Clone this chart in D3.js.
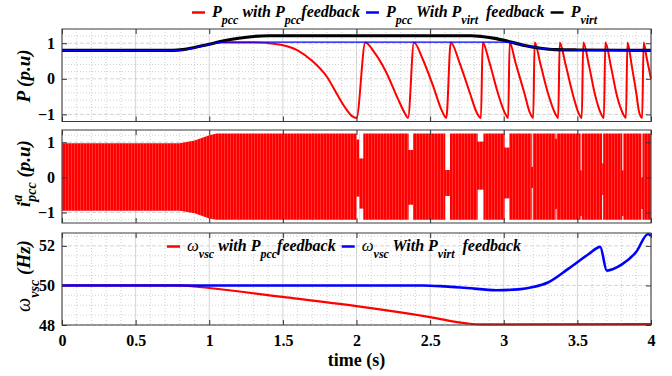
<!DOCTYPE html>
<html lang="en">
<head>
<meta charset="UTF-8">
<script src="https://cdn.jsdelivr.net/npm/d3@7"></script>
<style>
  html, body { margin: 0; padding: 0; background: #fff; }
  svg { display: block; font-family: "Liberation Serif", "Times New Roman", serif; }
  .tick text { font-weight: bold; font-size: 16px; fill: #000; font-family: "Liberation Serif", serif; }
  .lbl { font-weight: bold; font-style: italic; white-space: pre; fill: #000; }
</style>
</head>
<body>
<div id="chart"></div>
<script>
// ---- values ----
const xTicks = [0, 0.5, 1, 1.5, 2, 2.5, 3, 3.5, 4];
const pTicks = [-1, 0, 1];
const iTicks = [-1, 0, 1];
const wTicks = [48, 50, 52];

// P_virt (black)
const pVirtT = [0, 0.75, 0.82, 0.9, 1.0, 1.1, 1.2, 1.3, 1.4, 2.78, 2.85, 2.95, 3.05, 3.15, 3.25, 3.35, 3.5, 4.0];
const pVirtV = [0.8, 0.8, 0.82, 0.88, 0.97, 1.07, 1.14, 1.19, 1.21, 1.21, 1.19, 1.13, 1.03, 0.93, 0.86, 0.82, 0.81, 0.8];

// P_pcc with P_virt feedback (blue)
const pBlueT = [0, 0.78, 0.85, 0.92, 1.0, 1.05, 1.1, 3.0, 3.05, 3.15, 3.25, 3.35, 3.5, 4.0];
const pBlueV = [0.8, 0.8, 0.83, 0.89, 0.97, 1.01, 1.03, 1.03, 1.02, 0.93, 0.86, 0.82, 0.81, 0.8];

// P_pcc with P_pcc feedback (red)
const pRedT = [0, 0.78, 0.85, 0.92, 1.0, 1.08, 1.3, 1.45, 1.6, 1.7, 1.8, 1.87, 1.93, 1.97, 2.0,
  2.06, 2.12, 2.2, 2.28, 2.33, 2.35,
  2.39, 2.45, 2.52, 2.58, 2.61,
  2.64, 2.7, 2.77, 2.82, 2.845,
  2.857, 2.9, 2.96, 3.01, 3.03,
  3.04, 3.08, 3.14, 3.18, 3.2,
  3.21, 3.25, 3.3, 3.35, 3.37,
  3.38, 3.42, 3.47, 3.51, 3.53,
  3.54, 3.58, 3.62, 3.66, 3.68,
  3.69, 3.73, 3.77, 3.81, 3.83,
  3.84, 3.87, 3.9, 3.92, 3.94,
  3.95, 3.97, 4.0];
const pRedV = [0.8, 0.8, 0.83, 0.89, 0.97, 1.02, 1.02, 0.98, 0.8, 0.5, 0.05, -0.45, -0.85, -1.05, -1.1,
  1.02, 0.75, 0.2, -0.55, -0.98, -1.1,
  1.02, 0.55, -0.2, -0.9, -1.1,
  1.02, 0.45, -0.4, -0.98, -1.1,
  1.02, 0.5, -0.4, -0.98, -1.1,
  1.02, 0.45, -0.4, -0.98, -1.1,
  1.02, 0.4, -0.4, -0.98, -1.1,
  1.02, 0.4, -0.45, -0.98, -1.1,
  1.02, 0.35, -0.45, -0.98, -1.1,
  1.02, 0.3, -0.5, -0.98, -1.1,
  1.02, 0.35, -0.4, -0.95, -1.1,
  1.02, 0.6, 0.0];

// i_pcc^a envelope (red band) and the white notches in it
const iEnvT = [0, 0.8, 0.9, 1.0, 1.05, 4.0];
const iEnvUp = [0.97, 0.97, 1.05, 1.2, 1.25, 1.25];
const iEnvLo = [-0.95, -0.95, -1.02, -1.17, -1.21, -1.21];
const iGapStart = [2.001, 2.019, 2.354, 2.603, 2.823, 3.006, 3.19, 3.352, 3.522, 3.668, 3.805, 3.935];
const iGapEnd = [2.019, 2.046, 2.384, 2.635, 2.862, 3.038, 3.197, 3.358, 3.528, 3.675, 3.811, 3.942];
const iGapUp = [1.08, 0.54, 0.78, 0.21, 1.02, 0.85, 0.3, 1.1, 0.2, 0.4, 0.2, 0.0];
const iGapLo = [-0.55, -0.89, -0.78, -0.53, -0.35, -0.6, -0.3, -0.9, -1.1, -0.5, -1.1, -0.9];

// omega_vsc with P_pcc feedback (red)
const wRedT = [0, 0.8, 0.9, 1.0, 1.5, 2.0, 2.5, 2.75, 2.85, 4.0];
const wRedV = [50, 50, 49.95, 49.87, 49.42, 48.95, 48.4, 48.08, 48.03, 48.04];

// omega_vsc with P_virt feedback (blue)
const wBlueT = [0, 2.45, 2.6, 2.75, 2.95, 3.1, 3.2, 3.3, 3.44, 3.58, 3.655, 3.7, 3.8, 3.9, 3.98, 4.0];
const wBlueV = [50, 50, 49.95, 49.87, 49.76, 49.8, 49.92, 50.15, 50.85, 51.6, 51.95, 50.75, 51.05, 51.7, 52.6, 52.5];

const zip = (t, v) => t.map((d, i) => ({t: d, v: v[i]}));

// ---- layout ----
const width = 672, height = 376;
const x = d3.scaleLinear().domain([0, 4]).range([62, 651]);

const panels = [
  {top: 29, bottom: 121.5, domain: [-1.2, 1.4], ticks: pTicks, minor: 0.2},
  {top: 130, bottom: 223, domain: [-1.3, 1.35], ticks: iTicks, minor: 0.2},
  {top: 233, bottom: 325, domain: [48, 52.65], ticks: wTicks, minor: 0.5}
];

const svg = d3.select('#chart').append('svg').attr('width', width).attr('height', height);

const xMinor = d3.range(0.1, 4, 0.1).filter(v => Math.abs(v * 2 - Math.round(v * 2)) > 1e-6);

function richText(sel, parts, size) {
  let shift = 0;
  parts.forEach(([str, kind]) => {
    const ts = sel.append('tspan').text(str);
    let target = 0;
    if (kind === 'sub') { target = size * 0.45; ts.attr('font-size', size * 0.75); }
    if (kind === 'w') { ts.attr('font-weight', 'normal').attr('font-size', size * 1.05); }
    ts.attr('dy', target - shift);
    shift = target;
  });
}

function legend(g, x0, yBase, entries, size) {
  let cx = x0;
  entries.forEach(e => {
    g.append('line').attr('x1', cx).attr('x2', cx + 13)
      .attr('y1', yBase - 4.5).attr('y2', yBase - 4.5)
      .attr('stroke', e.color).attr('stroke-width', 2.5);
    const t = g.append('text').attr('class', 'lbl').attr('x', cx + 20).attr('y', yBase)
      .attr('font-size', size);
    richText(t, e.parts, size);
    cx = cx + 20 + t.node().getComputedTextLength() + 6;
  });
}

panels.forEach((p, k) => {
  const y = d3.scaleLinear().domain(p.domain).range([p.bottom, p.top]);
  p.y = y;
  const g = svg.append('g');
  const yMinor = d3.range(Math.ceil(p.domain[0] / p.minor) * p.minor, p.domain[1], p.minor)
    .filter(v => !p.ticks.some(t => Math.abs(t - v) < 1e-6));

  // minor grid
  g.append('g').selectAll('line').data(xMinor).join('line')
    .attr('x1', d => x(d)).attr('x2', d => x(d)).attr('y1', p.top).attr('y2', p.bottom)
    .attr('stroke', '#c4c4c4').attr('stroke-width', 0.8).attr('stroke-dasharray', '1,2');
  g.append('g').selectAll('line').data(yMinor).join('line')
    .attr('x1', x(0)).attr('x2', x(4)).attr('y1', d => y(d)).attr('y2', d => y(d))
    .attr('stroke', '#c4c4c4').attr('stroke-width', 0.8).attr('stroke-dasharray', '1,2');
  // major grid
  g.append('g').selectAll('line').data(xTicks).join('line')
    .attr('x1', d => x(d)).attr('x2', d => x(d)).attr('y1', p.top).attr('y2', p.bottom)
    .attr('stroke', '#cfcfcf').attr('stroke-width', 0.9);
  g.append('g').selectAll('line').data(p.ticks).join('line')
    .attr('x1', x(0)).attr('x2', x(4)).attr('y1', d => y(d)).attr('y2', d => y(d))
    .attr('stroke', '#cfcfcf').attr('stroke-width', 0.9).attr('stroke-dasharray', '4,2');
});

// ---- panel 1: P ----
{
  const y = panels[0].y;
  const line = d3.line().x(d => x(d.t)).y(d => y(d.v)).curve(d3.curveMonotoneX);
  svg.append('path').datum(zip(pRedT, pRedV)).attr('d', line)
    .attr('fill', 'none').attr('stroke', '#ff0000').attr('stroke-width', 2);
  svg.append('path').datum(zip(pVirtT, pVirtV)).attr('d', line)
    .attr('fill', 'none').attr('stroke', '#000').attr('stroke-width', 3.2);
  svg.append('path').datum(zip(pBlueT, pBlueV)).attr('d', line)
    .attr('fill', 'none').attr('stroke', '#0000ff').attr('stroke-width', 1.3);
}

// ---- panel 2: i_pcc ----
{
  const p = panels[1], y = p.y;
  const defs = svg.append('defs');
  const pat = defs.append('pattern').attr('id', 'osc').attr('patternUnits', 'userSpaceOnUse')
    .attr('width', 3).attr('height', 10);
  pat.append('rect').attr('width', 3).attr('height', 10).attr('fill', '#ff0000');
  pat.append('rect').attr('x', 2.2).attr('width', 0.6).attr('height', 10).attr('fill', '#ff5050');
  const area = d3.area().x(d => x(d.t)).y0(d => y(d.lo)).y1(d => y(d.up));
  const env = iEnvT.map((t, i) => ({t, up: iEnvUp[i], lo: iEnvLo[i]}));
  svg.append('path').datum(env).attr('d', area).attr('fill', 'url(#osc)');
  const gaps = iGapStart.map((s, i) => ({s, e: iGapEnd[i], up: iGapUp[i], lo: iGapLo[i]}));
  const gg = svg.append('g');
  gg.selectAll('rect.top').data(gaps).join('rect').attr('class', 'top')
    .attr('x', d => x(d.s)).attr('width', d => Math.max(1, x(d.e) - x(d.s)))
    .attr('y', p.top + 1).attr('height', d => y(d.up) - p.top - 1).attr('fill', '#fff');
  gg.selectAll('rect.bot').data(gaps).join('rect').attr('class', 'bot')
    .attr('x', d => x(d.s)).attr('width', d => Math.max(1, x(d.e) - x(d.s)))
    .attr('y', d => y(d.lo)).attr('height', d => p.bottom - 1 - y(d.lo)).attr('fill', '#fff');
}

// ---- panel 3: omega ----
{
  const y = panels[2].y;
  const line = d3.line().x(d => x(d.t)).y(d => y(d.v)).curve(d3.curveMonotoneX);
  svg.append('path').datum(zip(wRedT, wRedV)).attr('d', line)
    .attr('fill', 'none').attr('stroke', '#ff0000').attr('stroke-width', 2.2);
  svg.append('path').datum(zip(wBlueT, wBlueV)).attr('d', line)
    .attr('fill', 'none').attr('stroke', '#0000ff').attr('stroke-width', 2.6);
}

// ---- axes boxes and ticks ----
panels.forEach((p, k) => {
  const y = p.y;
  const g = svg.append('g');
  g.append('g').attr('transform', `translate(${x(0)},0)`)
    .call(d3.axisLeft(y).tickValues(p.ticks).tickSizeInner(-5).tickSizeOuter(0).tickPadding(7).tickFormat(d3.format('d')));
  g.append('g').attr('transform', `translate(${x(4)},0)`)
    .call(d3.axisRight(y).tickValues(p.ticks).tickSizeInner(-5).tickSizeOuter(0).tickFormat(''));
  g.append('g').attr('transform', `translate(0,${p.top})`)
    .call(d3.axisTop(x).tickValues(xTicks).tickSizeInner(-5).tickSizeOuter(0).tickFormat(''));
  g.append('g').attr('transform', `translate(0,${p.bottom})`)
    .call(d3.axisBottom(x).tickValues(xTicks).tickSizeInner(-5).tickSizeOuter(0).tickPadding(10)
      .tickFormat(k === 2 ? d3.format('') : ''));
  g.selectAll('.domain').remove();
  g.selectAll('.tick line').attr('stroke', '#333');
  g.append('rect').attr('x', x(0)).attr('y', p.top).attr('width', x(4) - x(0))
    .attr('height', p.bottom - p.top).attr('fill', 'none').attr('stroke', '#3a3a3a').attr('stroke-width', 1);
});

// ---- axis labels ----
svg.append('text').attr('x', (x(0) + x(4)) / 2).attr('y', 366).attr('text-anchor', 'middle')
  .attr('font-weight', 'bold').attr('font-size', 18).text('time (s)');

{
  const t1 = svg.append('text').attr('class', 'lbl').attr('font-size', 19).attr('text-anchor', 'middle')
    .attr('transform', 'translate(30,76) rotate(-90)');
  richText(t1, [['P (p.u)']], 19);

  const t2 = svg.append('text').attr('class', 'lbl').attr('font-size', 19)
    .attr('transform', 'translate(30,207) rotate(-90)');
  t2.append('tspan').text('i');
  const sup = t2.append('tspan').text('a').attr('font-size', 14).attr('dy', -8);
  const w = sup.node().getComputedTextLength();
  t2.append('tspan').text('pcc').attr('font-size', 14).attr('dx', -w).attr('dy', 14);
  t2.append('tspan').text(' (p.u)').attr('dy', -6);

  const t3 = svg.append('text').attr('class', 'lbl').attr('font-size', 19).attr('text-anchor', 'middle')
    .attr('transform', 'translate(30,276) rotate(-90)');
  richText(t3, [['ω', 'w'], ['vsc', 'sub'], [' (Hz)']], 19);
}

// ---- legends ----
legend(svg.append('g'), 192, 17, [
  {color: '#ff0000', parts: [['P'], ['pcc', 'sub'], [' with P'], ['pcc', 'sub'], ['feedback']]},
  {color: '#0000ff', parts: [['P'], ['pcc', 'sub'], [' With P'], ['virt', 'sub'], ['  feedback']]},
  {color: '#000000', parts: [['P'], ['virt', 'sub']]}
], 16);

legend(svg.append('g'), 167, 251, [
  {color: '#ff0000', parts: [['ω', 'w'], ['vsc', 'sub'], [' with P'], ['pcc', 'sub'], ['feedback']]},
  {color: '#0000ff', parts: [['ω', 'w'], ['vsc', 'sub'], [' With P'], ['virt', 'sub'], ['  feedback']]}
], 16);
</script>
</body>
</html>
